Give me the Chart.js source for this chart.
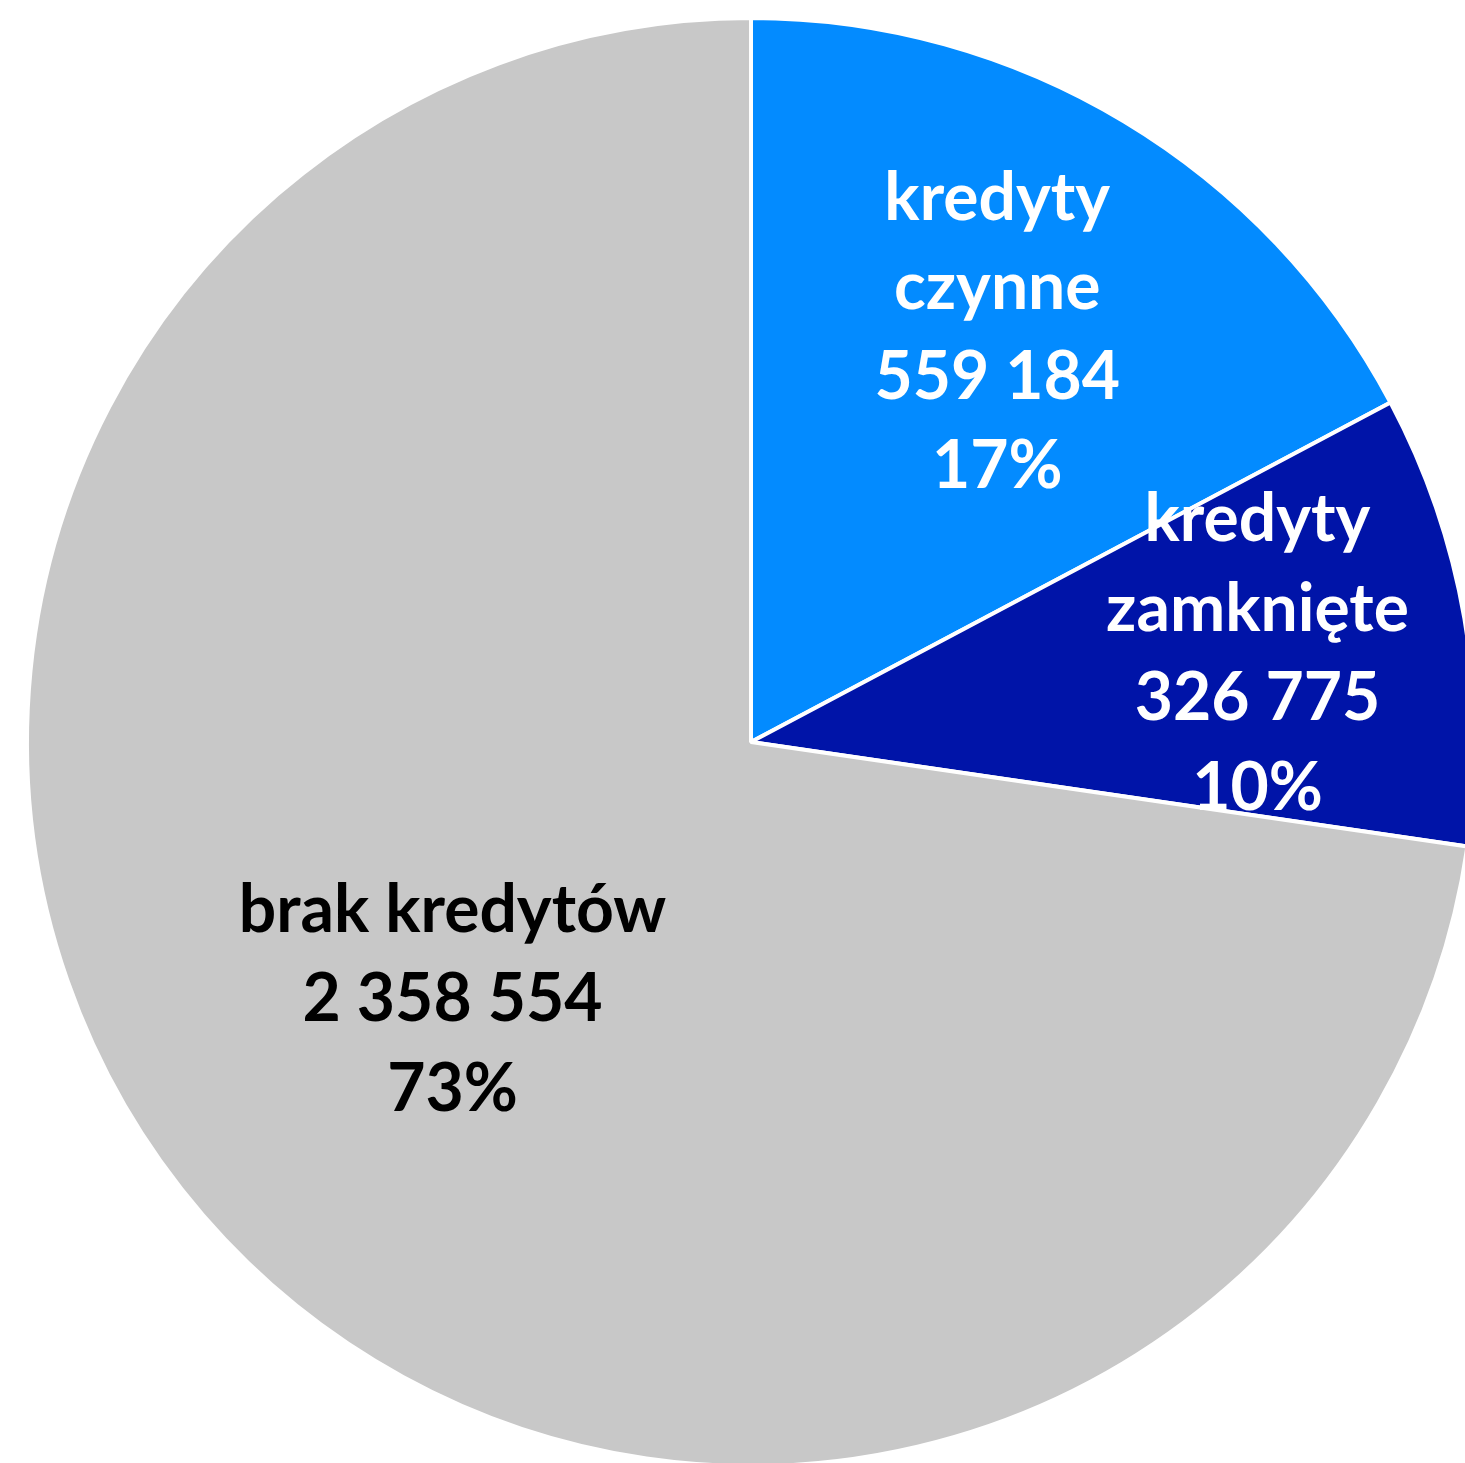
<!DOCTYPE html>
<html>
<head>
<meta charset="utf-8">
<script src="https://cdn.jsdelivr.net/npm/chart.js@4/dist/chart.umd.min.js"></script>
<style>
html,body{margin:0;padding:0;background:#fff;overflow:hidden;width:1465px;height:1463px;}
canvas{display:block;}
</style>
</head>
<body>
<canvas id="c" width="1502" height="1484"></canvas>
<script>
const categories = [["kredyty", "czynne"], ["kredyty", "zamknięte"], ["brak kredytów"]];
const values = [559184, 326775, 2358554];
const colors = ["#038BFF", "#0014A8", "#C8C8C8"];
const labelColors = ["#FFFFFF", "#FFFFFF", "#000000"];
const labelRadiusFrac = [0.66, 0.71, 0.545];

function fmt(n){ return String(n).replace(/\B(?=(\d{3})+(?!\d))/g, " "); }

const labelPlugin = {
  id: 'sliceLabels',
  afterDatasetsDraw(chart){
    const ctx = chart.ctx;
    const meta = chart.getDatasetMeta(0);
    const total = values.reduce((a,b)=>a+b,0);
    ctx.save();
    ctx.font = 'bold 66px Lato, "Liberation Sans", sans-serif';
    ctx.textAlign = 'center';
    ctx.textBaseline = 'middle';
    meta.data.forEach((arc, i) => {
      const p = arc.getProps(['x','y','startAngle','endAngle','outerRadius'], true);
      const mid = (p.startAngle + p.endAngle)/2;
      const r = p.outerRadius * labelRadiusFrac[i];
      const cx = p.x + Math.cos(mid)*r;
      const cy = p.y + Math.sin(mid)*r;
      const lines = categories[i].concat([fmt(values[i]), Math.round(values[i]/total*100) + '%']);
      const lh = 89.5;
      const y0 = cy - (lines.length-1)*lh/2;
      ctx.fillStyle = labelColors[i];
      lines.forEach((t, k) => ctx.fillText(t, cx, y0 + k*lh));
    });
    ctx.restore();
  }
};

new Chart(document.getElementById('c'), {
  type: 'pie',
  data: {
    labels: categories.map(c => c.join(' ')),
    datasets: [{
      data: values,
      backgroundColor: colors,
      borderColor: '#FFFFFF',
      borderWidth: 4
    }]
  },
  options: {
    responsive: false,
    animation: false,
    radius: 724,
    layout: { padding: 0 },
    plugins: { legend: { display: false }, tooltip: { enabled: false } }
  },
  plugins: [labelPlugin]
});
</script>
</body>
</html>
